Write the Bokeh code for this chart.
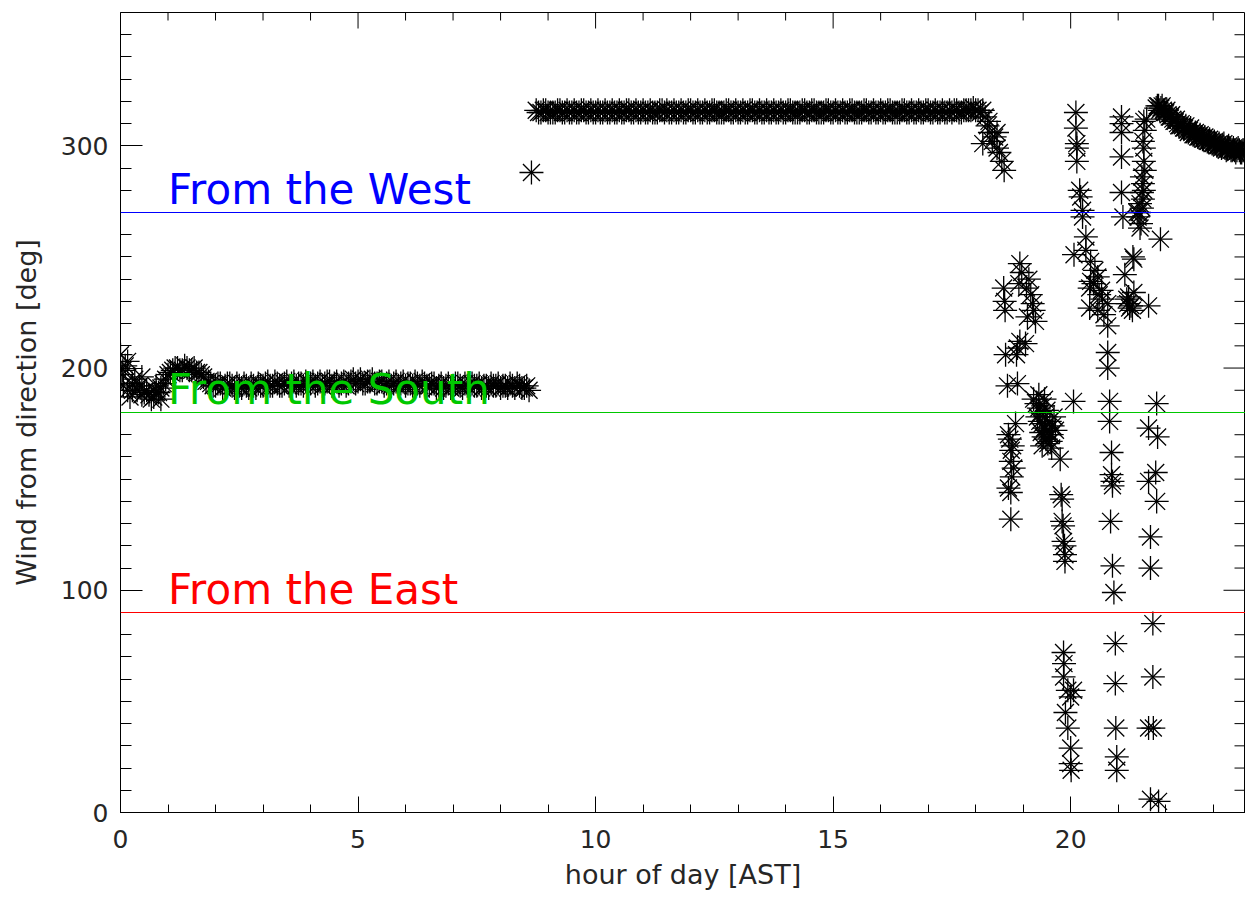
from bokeh.plotting import figure
from bokeh.models import Span, Label, FixedTicker, Range1d, ColumnDataSource
from bokeh.embed import file_html
from bokeh.resources import INLINE

# ---------------- data ----------------
# early-day southerly regime (readings on the whole tenths of an hour)
south_hour = [0.0, 0.1, 0.2, 0.3, 0.4, 0.5, 0.6, 0.7, 0.8, 0.9,
              1.0, 1.1, 1.2, 1.3, 1.4, 1.5, 1.6, 1.7, 1.8, 1.9,
              2.0, 2.1, 2.2, 2.3, 2.4, 2.5, 2.6, 2.7, 2.8, 2.9,
              3.0, 3.1, 3.2, 3.3, 3.4, 3.5, 3.6, 3.7, 3.8, 3.9,
              4.0, 4.1, 4.2, 4.3, 4.4, 4.5, 4.6, 4.7, 4.8, 4.9,
              5.0, 5.1, 5.2, 5.3, 5.4, 5.5, 5.6, 5.7, 5.8, 5.9,
              6.0, 6.1, 6.2, 6.3, 6.4, 6.5, 6.6, 6.7, 6.8, 6.9,
              7.0, 7.1, 7.2, 7.3, 7.4, 7.5, 7.6, 7.7, 7.8, 7.9,
              8.0, 8.1, 8.2, 8.3, 8.4, 8.5, 8.6]
south_dir = [206, 201, 187, 195, 192, 189, 188, 187, 189, 193,
             197, 199, 200, 199, 200, 199, 198, 197, 194, 193,
             192, 193, 192, 193, 191, 192, 193, 191, 192, 193,
             192, 194, 192, 193, 192, 194, 193, 192, 193, 194,
             193, 192, 194, 193, 194, 193, 192, 194, 193, 195,
             194, 193, 194, 195, 193, 194, 193, 192, 194, 193,
             192, 193, 194, 192, 193, 192, 193, 192, 191, 193,
             192, 193, 191, 192, 193, 192, 191, 192, 193, 192,
             191, 192, 193, 191, 192, 191, 190]
# same regime, readings half-way between
south_hour_b = [0.05, 0.15, 0.25, 0.35, 0.45, 0.55, 0.65, 0.75, 0.85, 0.95,
                1.05, 1.15, 1.25, 1.35, 1.45, 1.55, 1.65, 1.75, 1.85, 1.95,
                2.05, 2.15, 2.25, 2.35, 2.45, 2.55, 2.65, 2.75, 2.85, 2.95,
                3.05, 3.15, 3.25, 3.35, 3.45, 3.55, 3.65, 3.75, 3.85, 3.95,
                4.05, 4.15, 4.25, 4.35, 4.45, 4.55, 4.65, 4.75, 4.85, 4.95,
                5.05, 5.15, 5.25, 5.35, 5.45, 5.55, 5.65, 5.75, 5.85, 5.95,
                6.05, 6.15, 6.25, 6.35, 6.45, 6.55, 6.65, 6.75, 6.85, 6.95,
                7.05, 7.15, 7.25, 7.35, 7.45, 7.55, 7.65, 7.75, 7.85, 7.95,
                8.05, 8.15, 8.25, 8.35, 8.45, 8.55]
south_dir_b = [199, 190, 193, 190, 188, 190, 186, 189, 191, 195,
               198, 200, 199, 201, 199, 200, 198, 196, 194, 192,
               193, 191, 193, 192, 193, 191, 192, 193, 191, 192,
               193, 192, 194, 192, 193, 192, 194, 193, 192, 193,
               194, 193, 192, 194, 192, 194, 193, 192, 194, 193,
               195, 193, 194, 193, 194, 192, 194, 193, 192, 194,
               193, 192, 193, 194, 192, 193, 191, 193, 192, 191,
               193, 192, 193, 191, 192, 193, 192, 191, 192, 193,
               192, 191, 192, 193, 191, 192]

# mid-day north-westerly regime
west_hour = [8.8, 8.9, 9.0, 9.1, 9.2, 9.3, 9.4, 9.5, 9.6, 9.7, 9.8, 9.9,
             10.0, 10.1, 10.2, 10.3, 10.4, 10.5, 10.6, 10.7, 10.8, 10.9,
             11.0, 11.1, 11.2, 11.3, 11.4, 11.5, 11.6, 11.7, 11.8, 11.9,
             12.0, 12.1, 12.2, 12.3, 12.4, 12.5, 12.6, 12.7, 12.8, 12.9,
             13.0, 13.1, 13.2, 13.3, 13.4, 13.5, 13.6, 13.7, 13.8, 13.9,
             14.0, 14.1, 14.2, 14.3, 14.4, 14.5, 14.6, 14.7, 14.8, 14.9,
             15.0, 15.1, 15.2, 15.3, 15.4, 15.5, 15.6, 15.7, 15.8, 15.9,
             16.0, 16.1, 16.2, 16.3, 16.4, 16.5, 16.6, 16.7, 16.8, 16.9,
             17.0, 17.1, 17.2, 17.3, 17.4, 17.5, 17.6, 17.7, 17.8, 17.9,
             18.0, 18.1, 18.15, 18.2, 18.25, 18.3, 18.35, 18.4, 18.45, 18.5,
             18.55, 18.6]
west_dir = [315, 316, 315, 315, 316, 315, 316, 315, 315, 316, 315, 316,
            315, 315, 316, 315, 315, 316, 315, 316, 315, 315,
            316, 315, 315, 315, 316, 316, 315, 315, 316, 315,
            316, 315, 315, 316, 315, 316, 315, 315, 316, 315,
            315, 316, 315, 316, 315, 315, 316, 315, 315, 316,
            315, 316, 315, 315, 316, 315, 316, 315, 315, 316,
            315, 315, 316, 315, 316, 315, 315, 316, 315, 315,
            316, 315, 316, 315, 315, 316, 315, 315, 316, 315,
            316, 315, 315, 316, 315, 315, 316, 315, 316, 316,
            316, 315, 316, 313, 309, 306, 302, 304, 299, 297,
            293, 289]
west_hour_b = [8.75, 8.85, 8.95, 9.05, 9.15, 9.25, 9.35, 9.45, 9.55, 9.65, 9.75, 9.85, 9.95,
               10.05, 10.15, 10.25, 10.35, 10.45, 10.55, 10.65, 10.75, 10.85, 10.95,
               11.05, 11.15, 11.25, 11.35, 11.45, 11.55, 11.65, 11.75, 11.85, 11.95,
               12.05, 12.15, 12.25, 12.35, 12.45, 12.55, 12.65, 12.75, 12.85, 12.95,
               13.05, 13.15, 13.25, 13.35, 13.45, 13.55, 13.65, 13.75, 13.85, 13.95,
               14.05, 14.15, 14.25, 14.35, 14.45, 14.55, 14.65, 14.75, 14.85, 14.95,
               15.05, 15.15, 15.25, 15.35, 15.45, 15.55, 15.65, 15.75, 15.85, 15.95,
               16.05, 16.15, 16.25, 16.35, 16.45, 16.55, 16.65, 16.75, 16.85, 16.95,
               17.05, 17.15, 17.25, 17.35, 17.45, 17.55, 17.65, 17.75, 17.85, 17.95,
               18.05]
west_dir_b = [316, 315, 316, 315, 315, 316, 315, 315, 316, 315, 316, 315, 315,
              316, 315, 315, 316, 315, 315, 316, 315, 316, 315,
              315, 316, 315, 316, 315, 315, 316, 315, 315, 316,
              315, 316, 315, 315, 316, 315, 315, 316, 315, 316,
              315, 315, 316, 315, 316, 315, 315, 316, 315, 315,
              316, 315, 315, 316, 315, 316, 315, 315, 316, 315,
              316, 315, 315, 316, 315, 315, 316, 315, 316, 315,
              315, 316, 315, 315, 316, 315, 316, 315, 315, 316,
              315, 316, 315, 315, 316, 316, 315, 316, 316, 317,
              316]

# scattered / transitional observations
scatter_hour = [0.03, 0.06, 0.15, 0.25, 0.45, 0.75, 0.85,
                8.65,
                18.15, 18.28, 18.45,
                18.59, 18.61, 18.62, 18.63, 18.67, 18.69, 18.72, 18.75, 18.78, 18.74,
                18.80, 18.76, 18.69, 18.74, 18.74, 18.84, 18.88, 18.86, 18.88, 18.93,
                18.93, 18.97, 18.91,
                19.07, 19.12, 19.16, 19.20, 19.09, 19.26, 19.05, 19.22,
                19.22, 19.28, 19.33, 19.37, 19.30, 19.35, 19.40, 19.45, 19.38, 19.43,
                19.48, 19.50, 19.55, 19.52, 19.58, 19.60, 19.62, 19.56, 19.47, 19.42,
                19.50, 19.65, 19.33, 19.45, 19.60, 19.68, 19.40,
                19.78, 19.80, 19.82, 19.82, 19.84, 19.85, 19.87, 19.88, 19.88,
                19.85, 19.86, 19.85, 19.94, 20.06, 20.00, 19.89, 19.94, 20.00, 20.00, 20.01,
                20.11, 20.11, 20.13, 20.13, 20.13, 20.19, 20.21, 20.25, 20.25, 20.07, 20.06,
                20.32, 20.32, 20.42, 20.51, 20.42, 20.40, 20.57, 20.65, 20.67, 20.40,
                20.57, 20.78, 20.78, 20.48, 20.60, 20.70,
                20.78, 20.78, 20.82, 20.82, 20.86, 20.86, 20.88, 20.88, 20.84, 20.88,
                20.91, 20.94, 20.94, 20.95, 20.97, 20.97,
                21.07, 21.07, 21.07, 21.07, 21.07, 21.10, 21.14, 21.31, 21.33, 21.18,
                21.24, 21.33, 21.27, 21.20, 21.30, 21.22,
                21.54, 21.56, 21.52, 21.54, 21.54, 21.56, 21.50, 21.52, 21.54, 21.50,
                21.52, 21.46, 21.50, 21.44, 21.42, 21.48, 21.46, 21.60, 21.64, 21.40,
                21.89, 21.81, 21.64, 21.83, 21.79, 21.64, 21.81, 21.68, 21.68, 21.73,
                21.73, 21.64, 21.74, 21.68, 21.85]
scatter_dir = [197, 192, 203, 190, 196, 192, 186,
               288,
               301, 311, 306,
               236, 230, 226, 206, 192, 170, 168, 163, 165, 158,
               155, 151, 146, 144, 132, 175, 193, 206, 209, 212,
               247, 243, 238,
               236, 240, 233, 229, 223, 221, 211, 226,
               186, 184, 182, 180, 178, 176, 175, 173, 171, 169,
               168, 172, 170, 166, 167, 170, 174, 176, 178, 183,
               181, 178, 188, 186, 164, 172, 165,
               159, 143, 141, 131, 129, 122, 120, 116, 113,
               72, 67, 61, 55, 55, 52, 45, 38, 29, 22, 19,
               315, 308, 301, 299, 293, 280, 277, 271, 268, 251, 185,
               259, 253, 248, 244, 239, 236, 241, 235, 231, 227,
               226, 229, 219, 238, 233, 224,
               207, 200, 185, 176, 162, 152, 147, 149, 131, 111,
               99, 76, 58, 38, 25, 19,
               313, 310, 306, 295, 279, 268, 242, 250, 249, 231,
               227, 234, 228, 229, 226, 232,
               311, 307, 302, 299, 293, 289, 286, 283, 280, 279,
               276, 274, 272, 270, 268, 265, 263, 312, 228, 270,
               258, 184, 173, 169, 153, 149, 140, 124, 110, 85,
               61, 38, 38, 6, 5]

# late-evening return to north-westerly
tail_hour = [21.80, 21.85, 21.90, 21.95, 22.00, 22.05, 22.10, 22.15, 22.20, 22.25,
             22.30, 22.35, 22.40, 22.45, 22.50, 22.55, 22.60, 22.65, 22.70, 22.75,
             22.80, 22.85, 22.90, 22.95, 23.00, 23.05, 23.10, 23.15, 23.20, 23.25,
             23.30, 23.35, 23.40, 23.45, 23.50, 23.55, 23.60, 23.65]
tail_dir = [317, 318, 317, 316, 315, 314, 313, 312, 311, 310,
            309, 309, 308, 307, 307, 306, 305, 305, 304, 304,
            303, 303, 302, 302, 301, 301, 300, 300, 300, 299,
            299, 299, 298, 298, 298, 298, 297, 298]
tail_hour_b = [21.825, 21.875, 21.925, 21.975, 22.025, 22.075, 22.125, 22.175, 22.225,
               22.275, 22.325, 22.375, 22.425, 22.475, 22.525, 22.575, 22.625, 22.675,
               22.725, 22.775, 22.825, 22.875, 22.925, 22.975, 23.025, 23.075, 23.125,
               23.175, 23.225, 23.275, 23.325, 23.375, 23.425, 23.475, 23.525, 23.575,
               23.625]
tail_dir_b = [318, 316, 318, 315, 316, 313, 314, 311, 312, 309,
              310, 308, 309, 306, 308, 305, 306, 304, 305, 303,
              304, 302, 303, 301, 302, 300, 301, 299, 301, 298,
              300, 298, 299, 297, 299, 297, 298]

# reference directions and their labels
ref_dir = [270, 180, 90]
ref_text = ["From the West", "From the South", "From the East"]
ref_color = ["#0000ff", "#00c800", "#ff0000"]
ref_label_hour = [1.0, 1.0, 1.0]
ref_label_dir = [280.3, 190.3, 100.3]

# ticks
x_major = [0, 5, 10, 15, 20]
x_minor = [1, 2, 3, 4, 6, 7, 8, 9, 11, 12, 13, 14, 16, 17, 18, 19, 21, 22, 23]
y_major = [0, 100, 200, 300]
y_minor = [10, 20, 30, 40, 50, 60, 70, 80, 90, 110, 120, 130, 140, 150, 160, 170, 180, 190,
           210, 220, 230, 240, 250, 260, 270, 280, 290, 310, 320, 330, 340, 350]

X_MIN, X_MAX = 0.0, 23.68
Y_MIN, Y_MAX = 0.0, 360.0
FRAME_W, FRAME_H = 1125, 800

FONT = "DejaVu Sans"
TXT = "#262626"

# ---------------- figure ----------------
p = figure(frame_width=FRAME_W, frame_height=FRAME_H,
           x_range=Range1d(X_MIN, X_MAX), y_range=Range1d(Y_MIN, Y_MAX),
           output_backend="svg", toolbar_location=None,
           x_axis_label="hour of day [AST]", y_axis_label="Wind from direction [deg]",
           min_border_left=120, min_border_top=12, min_border_right=0, min_border_bottom=0,
           background_fill_color="white", border_fill_color="white")
p.xgrid.visible = False
p.ygrid.visible = False
p.outline_line_color = "black"
p.outline_line_width = 1


def style_axis(ax, major, minor, tin, standoff):
    ax.ticker = FixedTicker(ticks=major, minor_ticks=minor)
    ax.axis_line_color = "black"
    ax.axis_line_width = 1
    ax.major_tick_line_color = "black"
    ax.minor_tick_line_color = "black"
    ax.major_tick_in = tin
    ax.major_tick_out = 0
    ax.minor_tick_in = tin // 2
    ax.minor_tick_out = 0
    ax.major_label_text_font = FONT
    ax.major_label_text_font_size = "25px"
    ax.major_label_text_color = TXT
    ax.major_label_standoff = standoff
    ax.axis_label_text_font = FONT
    ax.axis_label_text_font_size = "27px"
    ax.axis_label_text_font_style = "normal"
    ax.axis_label_text_color = TXT


style_axis(p.xaxis[0], x_major, x_minor, 16, 17)
p.xaxis[0].axis_label_standoff = 8
style_axis(p.yaxis[0], y_major, y_minor, 22, 12)
p.yaxis[0].axis_label_standoff = 16

# tick marks on the top and right edges of the box (no labels there)
px_x = (X_MAX - X_MIN) / FRAME_W   # data units per pixel, x
px_y = (Y_MAX - Y_MIN) / FRAME_H   # data units per pixel, y
top_major_len, top_minor_len = 16 * px_y, 8 * px_y
right_major_len, right_minor_len = 22 * px_x, 11 * px_x
p.segment(x0=x_major, y0=[Y_MAX] * len(x_major), x1=x_major,
          y1=[Y_MAX - top_major_len] * len(x_major), line_color="black", line_width=1)
p.segment(x0=x_minor, y0=[Y_MAX] * len(x_minor), x1=x_minor,
          y1=[Y_MAX - top_minor_len] * len(x_minor), line_color="black", line_width=1)
p.segment(x0=[X_MAX] * len(y_major), y0=y_major, x1=[X_MAX - right_major_len] * len(y_major),
          y1=y_major, line_color="black", line_width=1)
p.segment(x0=[X_MAX] * len(y_minor), y0=y_minor, x1=[X_MAX - right_minor_len] * len(y_minor),
          y1=y_minor, line_color="black", line_width=1)

# ---------------- data marks (IDL-style asterisks) ----------------
all_hour = south_hour + south_hour_b + west_hour + west_hour_b + scatter_hour + tail_hour + tail_hour_b
all_dir = south_dir + south_dir_b + west_dir + west_dir_b + scatter_dir + tail_dir + tail_dir_b
src = ColumnDataSource(data=dict(hour=all_hour, direction=all_dir))
for m in ("cross", "x"):
    p.scatter("hour", "direction", source=src, marker=m, size=24,
              line_color="black", line_width=1.3)

# ---------------- reference lines and labels ----------------
for d, t, c, lx, ly in zip(ref_dir, ref_text, ref_color, ref_label_hour, ref_label_dir):
    p.add_layout(Span(location=d, dimension="width", line_color=c, line_width=1))
    p.add_layout(Label(x=lx, y=ly, text=t, text_color=c, text_font=FONT,
                       text_font_size="42px", text_baseline="middle"))

open("out.html", "w").write(file_html(p, INLINE))
